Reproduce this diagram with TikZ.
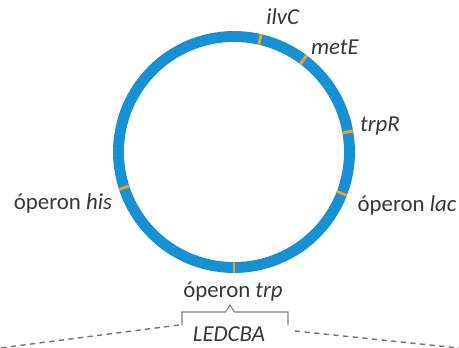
\documentclass[tikz,border=0pt]{standalone}
\usepackage{fontspec}
\setmainfont{Carlito}
\definecolor{ringblue}{RGB}{24,144,212}
\definecolor{geneorange}{RGB}{240,160,40}
\definecolor{labelgray}{RGB}{55,55,55}
\tikzset{
	locus/.style={geneorange, line width=1.6pt},
	genelabel/.style={text=labelgray, inner sep=1pt, font=\fontsize{13}{15}\selectfont},
	bracketline/.style={gray, line width=0.6pt},
	linkline/.style={gray!90!black, line width=0.8pt, dash pattern=on 3pt off 2.5pt}
}
\begin{document}
\begin{tikzpicture}
			
			\useasboundingbox (-4.68,-3.92) rectangle (4.5,3.04);
			
			%Chromosome
			\draw[ringblue, line width=6.2pt] (0,0) circle (2.31cm);
			
			%Gene positions
			\foreach \a in {77,53,10,-21,-90,198}
				\draw[locus] (\a:2.2) -- (\a:2.42);
			
			%Labels
			\node (ilvC) at (0.98,2.70) [genelabel]{\textit{ilvC}};
			\node (metE) at (2.02,2.10) [genelabel]{\textit{metE}};
			\node (trpR) at (2.92,0.52) [genelabel]{\textit{trpR}};
			\node (lacOperon) at (3.46,-1.06) [genelabel]{óperon \textit{lac}};
			\node (hisOperon) at (-3.42,-1.02) [genelabel]{óperon \textit{his}};
			\node (trpOperon) at (-0.02,-2.80) [genelabel]{óperon \textit{trp}};
			\node (trpGenes) at (-0.10,-3.64) [genelabel]{\textit{LEDCBA}};
			
			%Bracket over the trp genes
			\coordinate (bracketLeft) at (-1.04,-3.46);
			\coordinate (bracketRight) at (1.08,-3.46);
			\draw[bracketline] (bracketLeft) -- (-1.04,-3.2) -- (-0.17,-3.2) -- (-0.08,-3.06)
				-- (0.01,-3.2) -- (1.08,-3.2) -- (bracketRight);
			
			%Links to the enlarged operon
			\coordinate (linkLeft) at (-4.68,-3.92);
			\coordinate (linkRight) at (4.5,-3.92);
			\draw[linkline] ([xshift=-0.06cm]bracketLeft) -- (linkLeft);
			\draw[linkline] ([xshift=0.14cm,yshift=-0.12cm]bracketRight) -- (linkRight);
			
\end{tikzpicture}
\end{document}
